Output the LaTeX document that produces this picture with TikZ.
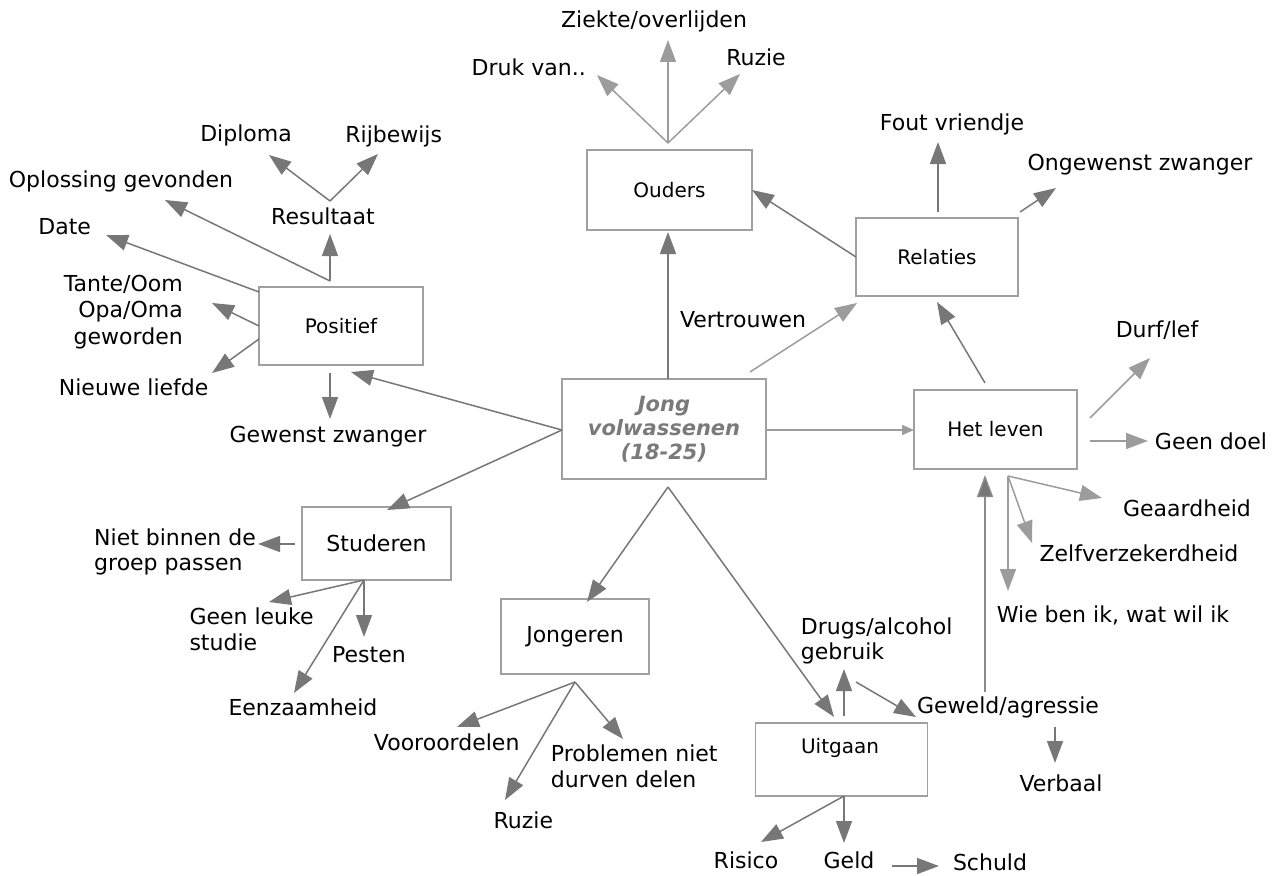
\documentclass[tikz,border=0pt]{standalone}
\usepackage{fontspec}
\setmainfont{DejaVu Sans}
\usetikzlibrary{arrows.meta}
\definecolor{boxgray}{HTML}{A0A0A0}
\definecolor{darkarr}{HTML}{777777}
\definecolor{lightarr}{HTML}{9C9C9C}
\definecolor{midarr}{HTML}{8A8A8A}
\definecolor{centergray}{HTML}{7A7A7A}
\begin{document}
\begin{tikzpicture}[x=1pt,y=-1pt,
  box/.style={draw=boxgray, line width=1.5pt, inner sep=0pt, font=\fontsize{20}{24}\selectfont},
  bigbox/.style={box, font=\fontsize{22}{26}\selectfont},
  lbl/.style={inner sep=0pt, font=\fontsize{22}{25.5}\selectfont},
  dk/.style={draw=darkarr, line width=1.5pt, -{Triangle[length=22pt,width=16pt]}},
  lt/.style={draw=lightarr, line width=1.5pt, -{Triangle[length=22pt,width=16pt]}},
  md/.style={draw=midarr, line width=1.5pt, -{Triangle[length=22pt,width=16pt,fill=darkarr]}},
  ltsmall/.style={draw=lightarr, line width=1.5pt, -{Triangle[length=12pt,width=10pt]}}]
\useasboundingbox (0,0) rectangle (1276,875);

% boxes
\node[box, minimum width=165pt, minimum height=80pt] (ouders) at (669.5,190) {Ouders};
\node[box, minimum width=162pt, minimum height=78pt] (relaties) at (937,257) {Relaties};
\node[box, minimum width=164pt, minimum height=78pt] (positief) at (341,326) {Positief};
\node[box, minimum width=204pt, minimum height=100pt, align=center, text=centergray,
  font=\fontsize{21}{24}\selectfont\bfseries\itshape] (jong) at (664,429) {Jong\\volwassenen\\(18-25)};
\node[box, minimum width=163pt, minimum height=79pt] (leven) at (995.5,429.5) {Het leven};
\node[bigbox, minimum width=149pt, minimum height=73pt] (studeren) at (376.5,543.5) {Studeren};
\node[bigbox, minimum width=148pt, minimum height=75pt] (jongeren) at (575,636.5) {Jongeren};
\node[box, minimum width=172pt, minimum height=73pt] (uitgaan) at (841.5,759.5) {};
\node[inner sep=0pt, font=\fontsize{20}{24}\selectfont] (uitgaantxt) at (840,748) {Uitgaan};

% labels
\node[lbl] (ziekte) at (654,21) {Ziekte/overlijden};
\node[lbl] (druk) at (528.7,67) {Druk van..};
\node[lbl] (ruzieO) at (756,57) {Ruzie};
\node[lbl] (fout) at (952,124) {Fout vriendje};
\node[lbl] (ongewenst) at (1140,165) {Ongewenst zwanger};
\node[lbl] (vertrouwen) at (743,320) {Vertrouwen};
\node[lbl] (durf) at (1157,330) {Durf/lef};
\node[lbl] (geendoel) at (1211,441) {Geen doel};
\node[lbl] (geaard) at (1187,508) {Geaardheid};
\node[lbl] (zelf) at (1139,553) {Zelfverzekerdheid};
\node[lbl] (wie) at (1113,615) {Wie ben ik, wat wil ik};
\node[lbl] (resultaat) at (323,216) {Resultaat};
\node[lbl] (diploma) at (246,135) {Diploma};
\node[lbl] (rijbewijs) at (393.7,136.7) {Rijbewijs};
\node[lbl] (oplossing) at (121,181) {Oplossing gevonden};
\node[lbl] (date) at (64.7,227) {Date};
\node[lbl, anchor=east, align=right, font=\fontsize{22}{26.5}\selectfont] (tante) at (183,312) {Tante/Oom\\Opa/Oma\\geworden};
\node[lbl] (nieuwe) at (133.7,387) {Nieuwe liefde};
\node[lbl] (gewenst) at (328,437) {Gewenst zwanger};
\node[lbl, anchor=west, align=left] (nietbinnen) at (94,552) {Niet binnen de\\groep passen};
\node[lbl, anchor=west, align=left] (geenleuke) at (189.3,629.5) {Geen leuke\\studie};
\node[lbl] (pesten) at (369,655) {Pesten};
\node[lbl] (eenzaam) at (303,707) {Eenzaamheid};
\node[lbl] (vooroordelen) at (446.7,742) {Vooroordelen};
\node[lbl] (ruzieJ) at (523.3,820) {Ruzie};
\node[lbl, anchor=west, align=left] (problemen) at (550.7,766.5) {Problemen niet\\durven delen};
\node[lbl, anchor=west, align=left] (drugs) at (800.7,641) {Drugs/alcohol\\gebruik};
\node[lbl] (geweld) at (1008,707) {Geweld/agressie};
\node[lbl] (verbaal) at (1061,783) {Verbaal};
\node[lbl] (risico) at (746,860) {Risico};
\node[lbl] (geld) at (849,860) {Geld};
\node[lbl] (schuld) at (990,862) {Schuld};

% connector coordinates
\coordinate (oT) at (668,143);
\coordinate (tZiekte) at (668,40);
\coordinate (tDruk) at (597,75);
\coordinate (tRuzieO) at (740,74);
\coordinate (jT) at (668,379);
\coordinate (tOud) at (668,232);
\coordinate (rL) at (856,257);
\coordinate (tOudR) at (752,190);
\coordinate (jR) at (750,372);
\coordinate (tRel) at (857,303);
\coordinate (rT) at (938,212);
\coordinate (tFout) at (938,142);
\coordinate (rTR) at (1020,212);
\coordinate (tOng) at (1056,188);
\coordinate (lT) at (985,383);
\coordinate (tRelL) at (937,302);
\coordinate (lR1) at (1090,418);
\coordinate (tDurf) at (1150,358);
\coordinate (lR2) at (1090,441);
\coordinate (tGeen) at (1148,441);
\coordinate (lB) at (1008,476);
\coordinate (tGeaard) at (1102,498);
\coordinate (tZelf) at (1032,543);
\coordinate (tWie) at (1008,591);
\coordinate (gT) at (985,692);
\coordinate (tLeven) at (985,475);
\coordinate (jE) at (766,430);
\coordinate (tLevenE) at (914,430);
\coordinate (jW) at (562,430);
\coordinate (tPos) at (351,372);
\coordinate (tStud) at (387,510);
\coordinate (jB) at (668,487);
\coordinate (tJong) at (587,602);
\coordinate (tUit) at (834,717);
\coordinate (pT) at (330,281);
\coordinate (tRes) at (330,234);
\coordinate (tOpl) at (165,200);
\coordinate (rA) at (330,201);
\coordinate (tDip) at (269,155);
\coordinate (tRij) at (378,154);
\coordinate (pL1) at (259,292);
\coordinate (tDate) at (106,235);
\coordinate (pL2) at (259,326);
\coordinate (tTante) at (212,303);
\coordinate (pL3) at (259,339);
\coordinate (tNieuwe) at (212,373);
\coordinate (pB) at (330,373);
\coordinate (tGewenst) at (330,419);
\coordinate (sL) at (295,544);
\coordinate (tNiet) at (258,544);
\coordinate (sB) at (364,580);
\coordinate (tGeenL) at (269,602);
\coordinate (tPesten) at (364,637);
\coordinate (tEenz) at (294,693);
\coordinate (jgB) at (575,682);
\coordinate (tVoor) at (457,727);
\coordinate (tRuzieJ) at (505,800);
\coordinate (tProb) at (623,739);
\coordinate (uT) at (844,716);
\coordinate (tDrugs) at (844,669);
\coordinate (dR) at (856,682);
\coordinate (tGeweld) at (916,717);
\coordinate (gB) at (1055,727);
\coordinate (tVerbaal) at (1055,763);
\coordinate (uB) at (844,796);
\coordinate (tRisico) at (761,842);
\coordinate (tGeld) at (844,843);
\coordinate (geR) at (892,866);
\coordinate (tSchuld) at (939,866);

% Ouders
\draw[lt] (oT) -- (tZiekte);
\draw[lt] (oT) -- (tDruk);
\draw[lt] (oT) -- (tRuzieO);
\draw[dk] (jT) -- (tOud);
\draw[dk] (rL) -- (tOudR);
% Relaties
\draw[lt] (jR) -- (tRel);
\draw[dk] (rT) -- (tFout);
\draw[dk] (rTR) -- (tOng);
\draw[dk] (lT) -- (tRelL);
% Het leven
\draw[lt] (lR1) -- (tDurf);
\draw[lt] (lR2) -- (tGeen);
\draw[lt] (lB) -- (tGeaard);
\draw[lt] (lB) -- (tZelf);
\draw[lt] (lB) -- (tWie);
\draw[md] (gT) -- (tLeven);
\draw[ltsmall] (jE) -- (tLevenE);
% central
\draw[dk] (jW) -- (tPos);
\draw[dk] (jW) -- (tStud);
\draw[dk] (jB) -- (tJong);
\draw[dk] (jB) -- (tUit);
% Positief
\draw[dk] (pT) -- (tRes);
\draw[dk] (pT) -- (tOpl);
\draw[dk] (rA) -- (tDip);
\draw[dk] (rA) -- (tRij);
\draw[dk] (pL1) -- (tDate);
\draw[dk] (pL2) -- (tTante);
\draw[dk] (pL3) -- (tNieuwe);
\draw[dk] (pB) -- (tGewenst);
% Studeren
\draw[dk] (sL) -- (tNiet);
\draw[dk] (sB) -- (tGeenL);
\draw[dk] (sB) -- (tPesten);
\draw[dk] (sB) -- (tEenz);
% Jongeren
\draw[dk] (jgB) -- (tVoor);
\draw[dk] (jgB) -- (tRuzieJ);
\draw[dk] (jgB) -- (tProb);
% Uitgaan
\draw[dk] (uT) -- (tDrugs);
\draw[dk] (dR) -- (tGeweld);
\draw[dk] (gB) -- (tVerbaal);
\draw[dk] (uB) -- (tRisico);
\draw[dk] (uB) -- (tGeld);
\draw[dk] (geR) -- (tSchuld);
\end{tikzpicture}
\end{document}
